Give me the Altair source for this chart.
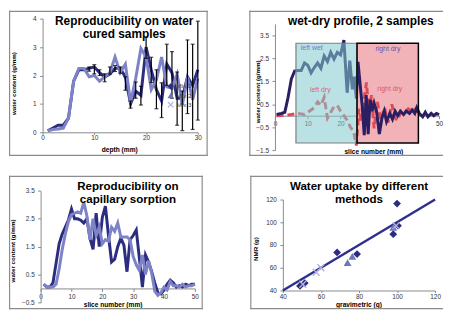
import altair as alt
import pandas as pd

FONT = "Liberation Sans"
FRAME = "#8c8c8c"
AX = "#8a8a8a"
DARK = "#2c2d80"
LIGHT = "#7d83c6"

# ---------------- data ----------------
# panel 1: reproducibility on water cured samples
depth = list(range(1, 31))
cured_a = [0.05, 0.15, 0.25, 0.25, 0.5, 1.8, 2.2, 2.2, 2.25, 2.3, 2.1, 1.95, 2.05, 2.25, 2.25,
           1.95, 1.0, 1.45, 1.3, 3.0, 2.2, 1.5, 1.1, 2.4, 2.1, 1.2, 1.2, 1.95, 1.65, 2.2]
cured_b = [0.05, 0.1, 0.12, 0.15, 0.5, 1.8, 2.25, 2.25, 1.95, 2.0, 1.8, 1.95, 2.1, 2.65, 2.1,
           2.4, 1.05, 1.9, 2.95, 2.65, 1.5, 1.85, 2.65, 1.6, 1.55, 2.05, 0.95, 1.95, 1.15, 1.9]
err_depth = list(range(9, 31))
err_lo = [2.15, 2.06, 2.0, 1.78, 2.05, 2.14, 2.08, 1.48, 0.85, 1.2, 0.96, 2.6, 1.75, 0.83,
          0.52, 1.65, 1.2, 0.25, 0.06, 0.66, 0.1, 0.43]
err_hi = [2.3, 2.38, 2.2, 2.06, 2.3, 2.35, 2.3, 1.95, 1.1, 1.77, 1.62, 3.35, 2.64, 2.2,
          1.74, 3.1, 2.84, 2.12, 1.45, 3.25, 3.1, 3.91]

# panel 2: wet-dry profile, 2 samples
wet_x = [0.5, 2, 3, 4, 5, 6, 7, 8, 9, 10, 11, 12, 13, 14, 15, 16, 17, 18, 19, 20, 21, 22,
         22.8, 23.6, 24.2, 24.8, 25.3, 26, 26.6, 27.2, 27.8, 28.4, 29, 29.6, 30.2, 31, 31.8,
         32.6, 33.3, 34, 35, 35.8, 36.6, 37.4, 38.2, 39.2, 40, 41, 41.8, 42.6, 43.2, 44, 45,
         45.8, 46.6, 47.6, 48.4, 49.2, 50]
wet_y = [0.05, 0.1, 0.15, 0.8, 1.6, 1.95, 1.97, 1.97, 2.3, 2.2, 1.87, 2.1, 2.3, 2.07, 2.6,
         2.36, 2.76, 2.47, 2.76, 2.65, 3.3, 1.0, 2.4, 1.15, 1.7, 0.75, 2.35, 1.3, 0.4, -0.85,
         0.9, -0.8, 0.7, 0.2, 0.55, 0.15, -0.8, -0.1, 0.2, -0.25, 0.1, -0.15, 0.2, 0.0, 0.2,
         0.05, 0.2, 0.1, 0.25, 0.1, 0.35, 0.1, -0.05, 0.15, -0.05, 0.1, 0.0, 0.1, 0.05]
dry_x = [0.5, 3, 5, 7, 8, 9, 10, 11, 12, 13, 14, 15, 16, 17, 18, 19, 20, 21, 22, 23, 24,
         24.8, 25.6, 26.4, 27.2, 27.9, 28.6, 29.4, 30.2, 31.2, 32.2, 33.4, 34.4, 35.6, 36.6,
         37.4, 38.4, 39.6, 40.6, 41.8, 42.8, 43.8]
dry_y = [0.0, 0.02, 0.05, 0.1, 0.08, 0.05, 0.15, 0.25, 0.35, 0.6, 0.45, 0.8, -0.1, 0.15,
         0.4, 0.45, 0.2, 0.0, -0.2, -0.5, -0.7, -1.3, 0.3, -0.3, 0.8, 1.45, 0.0, 0.9, -0.55,
         0.6, -0.2, 0.35, -0.3, 0.5, -0.1, -0.2, 0.2, 0.15, 0.3, 0.2, 0.3, 0.1]
zone_names = ["left", "right"]
zone_x0 = [6.4, 25.0]
zone_x1 = [25.0, 43.7]
zone_y0 = [-1.19, -1.19]
zone_y1 = [3.16, 3.16]
note_text = ["left wet", "right dry", "left dry", "right dry"]
note_x = [11.2, 34.4, 13.8, 35.0]
note_y = [2.93, 2.89, 1.12, 1.16]

# panel 3: reproducibility on capillary sorption
slices = list(range(1, 51))
cap_a = [0.15, 0.05, 0.05, 0.2, 0.9, 1.6, 1.95, 2.2, 2.45, 2.85, 2.5, 2.5, 2.45, 2.35, 2.5,
         1.8, 1.4, 2.7, 1.5, 2.55, 2.95, 1.9, 0.95, 1.05, 1.5, 1.8, 1.55, 0.6, 1.75, 1.9,
         2.1, 1.1, 0.05, 1.2, 0.95, 0.6, 0.2, -0.15, -0.2, -0.05, 0.15, 0.3, 0.2, 0.05, 0.1,
         0.05, 0.15, 0.1, 0.15, 0.15]
cap_b = [0.15, 0.05, 0.05, 0.05, 0.15, 0.7, 1.4, 1.95, 2.4, 2.65, 2.7, 2.75, 2.7, 3.1, 2.6,
         1.75, 2.5, 1.9, 2.2, 1.6, 1.75, 1.7, 2.2, 2.05, 2.35, 1.85, 1.85, 1.85, 1.75, 1.15,
         0.85, 0.65, 1.2, 0.5, 1.0, 0.55, -0.1, -0.25, -0.15, 0.05, -0.05, 0.25, 0.1, 0.1,
         0.05, 0.15, 0.05, 0.1, 0.1, 0.15]

# panel 4: water uptake by different methods
mix_names = ["Mix 1", "Mix 2", "Mix 3"]
mix1_grav = [49, 51.5, 68.5, 79, 98, 100, 100.5]
mix1_nmr = [44, 46.5, 73.5, 72, 89.5, 116.5, 97]
mix2_grav = [74, 76.5, 98]
mix2_nmr = [64.5, 70, 95.5]
mix3_grav = [50.5, 57.5, 60, 99.5]
mix3_nmr = [45.5, 56, 60, 97]
fit_grav = [40, 120]
fit_nmr = [40, 120]

ONE = alt.Data(values=[{"k": 1}])


# ---------------- helpers ----------------
def xaxis(vals, h, ypix, fmt="d", pad=2.0, ts=3):
    return alt.Axis(values=vals, title=None, offset=ypix - h, format=fmt, tickSize=ts,
                    labelPadding=pad, labelFlush=False, labelOverlap=False, grid=False)


def yaxis(vals, xpix, fmt="d"):
    return alt.Axis(values=vals, title=None, offset=-xpix, format=fmt, tickSize=3,
                    labelPadding=3.5, labelFlush=False, labelOverlap=False, grid=False)


def label(txt, x, y, size=12, weight="bold", angle=None, color="black"):
    kw = dict(text=txt, fontSize=size, fontWeight=weight, font=FONT, align="center",
              baseline="middle", color=color)
    if angle is not None:
        kw["angle"] = angle
    return alt.Chart(ONE).mark_text(**kw).encode(x=alt.value(x), y=alt.value(y))


def frame(w, h, right=True):
    c = alt.Chart(ONE)
    kw = dict(color=FRAME, strokeWidth=1.2)
    parts = [
        c.mark_rule(**kw).encode(x=alt.value(0), x2=alt.value(w), y=alt.value(0.6)),
        c.mark_rule(**kw).encode(x=alt.value(0), x2=alt.value(w), y=alt.value(h - 0.6)),
        c.mark_rule(**kw).encode(x=alt.value(0.6), y=alt.value(0), y2=alt.value(h)),
    ]
    if right:
        parts.append(c.mark_rule(**kw).encode(x=alt.value(w - 0.6), y=alt.value(0), y2=alt.value(h)))
    return parts


# ---------------- panel 1 ----------------
W1, H1 = 201, 147
sx1 = alt.Scale(domain=[0, 30], range=[34, 191], nice=False, zero=False)
sy1 = alt.Scale(domain=[0, 4], range=[123, 8], nice=False, zero=False)
ax1 = xaxis([0, 10, 20, 30], H1, 123, pad=0.5, ts=2)
ay1 = yaxis([0, 1, 2, 3, 4], 34)
d1 = pd.DataFrame({"depth": depth, "a": cured_a, "b": cured_b})
de = pd.DataFrame({"depth": err_depth, "lo": err_lo, "hi": err_hi})
X1 = alt.X("depth:Q", scale=sx1, axis=ax1)

p1 = alt.layer(
    alt.Chart(d1).mark_line(color=DARK, strokeWidth=3).encode(x=X1, y=alt.Y("a:Q", scale=sy1, axis=ay1)),
    alt.Chart(d1).mark_line(color=LIGHT, strokeWidth=3).encode(x=X1, y=alt.Y("b:Q", scale=sy1, axis=ay1)),
    alt.Chart(de).mark_rule(color="black", strokeWidth=1.2).encode(
        x=X1, y=alt.Y("lo:Q", scale=sy1, axis=ay1), y2="hi:Q"),
    alt.Chart(de).mark_tick(color="black", orient="horizontal", size=4, thickness=1.2).encode(
        x=X1, y=alt.Y("lo:Q", scale=sy1, axis=ay1)),
    alt.Chart(de).mark_tick(color="black", orient="horizontal", size=4, thickness=1.2).encode(
        x=X1, y=alt.Y("hi:Q", scale=sy1, axis=ay1)),
    label("Reproducibility on water", 116.5, 10.3),
    label("cured samples", 116.5, 23.7),
    label("water content (g/mm)", 5.5, 73.7, size=6.3, angle=270),
    label("depth (mm)", 112, 141, size=6.7),
    *frame(W1, H1),
).properties(width=W1, height=H1)

# ---------------- panel 2 ----------------
W2, H2 = 196, 147
sx2 = alt.Scale(domain=[0, 50], range=[26, 192], nice=False, zero=False)
sy2 = alt.Scale(domain=[-1.5, 4], range=[141, 13.4], nice=False, zero=False)
ax2 = xaxis([0, 10, 20, 30, 40, 50], H2, 106.2)
ay2 = yaxis([-1.5, -0.5, 0.5, 1.5, 2.5, 3.5], 26, ".1f")
zones = pd.DataFrame({"zone": zone_names, "x0": zone_x0, "x1": zone_x1, "y0": zone_y0, "y1": zone_y1})
notes = pd.DataFrame({"t": note_text, "x": note_x, "y": note_y, "i": [0, 1, 2, 3]})
dw = pd.DataFrame({"x": wet_x, "y": wet_y})
dd = pd.DataFrame({"x": dry_x, "y": dry_y})
X2z = alt.X("x0:Q", scale=sx2, axis=ax2)
Y2z = alt.Y("y0:Q", scale=sy2, axis=ay2)
X2 = alt.X("x:Q", scale=sx2, axis=ax2)
Y2 = alt.Y("y:Q", scale=sy2, axis=ay2)
note_colors = ["#6d80c4", "#6a50b4", "#d96a6e", "#e0585e"]

note_layers = [
    alt.Chart(notes).transform_filter(alt.datum.i == k).mark_text(
        font=FONT, fontSize=7, color=note_colors[k]).encode(x=X2, y=Y2, text="t:N")
    for k in range(4)
]

p2 = alt.layer(
    alt.Chart(zones).transform_filter(alt.datum.zone == "right").mark_rect(
        color="#f1b2b8").encode(x=X2z, x2="x1:Q", y=Y2z, y2="y1:Q"),
    alt.Chart(dd).mark_line(color="#e04a55", strokeWidth=3, strokeDash=[7, 4]).encode(x=X2, y=Y2),
    alt.Chart(dw).mark_line(color="#2a1f62", strokeWidth=3).encode(x=X2, y=Y2),
    alt.Chart(zones).transform_filter(alt.datum.zone == "left").mark_rect(
        color="#81c9ce", fillOpacity=0.55, stroke="#7f7f7f", strokeWidth=1.2).encode(
        x=X2z, x2="x1:Q", y=Y2z, y2="y1:Q"),
    alt.Chart(zones).transform_filter(alt.datum.zone == "right").mark_rect(
        fillOpacity=0, stroke="black", strokeWidth=1.5).encode(x=X2z, x2="x1:Q", y=Y2z, y2="y1:Q"),
    *note_layers,
    label("wet-dry profile, 2 samples", 112.8, 10.3),
    label("water content (g/mm)", 8.7, 82, size=6.3, angle=270),
    label("slice number (mm)", 126, 143, size=6.7),
    *frame(W2, H2, right=False),
).properties(width=W2, height=H2)

# ---------------- panel 3 ----------------
W3, H3 = 196, 135
sx3 = alt.Scale(domain=[0, 50], range=[32, 188], nice=False, zero=False)
sy3 = alt.Scale(domain=[-0.5, 3.5], range=[128, 15.3], nice=False, zero=False)
ax3 = xaxis([0, 10, 20, 30, 40, 50], H3, 113.9)
ay3 = yaxis([-0.5, 0.5, 1.5, 2.5, 3.5], 32, ".1f")
d3 = pd.DataFrame({"s": slices, "a": cap_a, "b": cap_b})
X3 = alt.X("s:Q", scale=sx3, axis=ax3)

p3 = alt.layer(
    alt.Chart(d3).mark_line(color=DARK, strokeWidth=3).encode(x=X3, y=alt.Y("a:Q", scale=sy3, axis=ay3)),
    alt.Chart(d3).mark_line(color=LIGHT, strokeWidth=3).encode(x=X3, y=alt.Y("b:Q", scale=sy3, axis=ay3)),
    label("Reproducibility on", 120.3, 10.5, size=11.7),
    label("capillary sorption", 120.3, 23.7, size=11.7),
    label("water content (g/mm)", 4.5, 76, size=6.3, angle=270),
    label("slice number (mm)", 105.3, 130.5, size=6.7),
    *frame(W3, H3),
).properties(width=W3, height=H3)

# ---------------- panel 4 ----------------
W4, H4 = 195, 135
sx4 = alt.Scale(domain=[40, 120], range=[33, 187], nice=False, zero=False)
sy4 = alt.Scale(domain=[40, 120], range=[116, 24], nice=False, zero=False)
ax4 = xaxis([40, 60, 80, 100, 120], H4, 116, pad=1, ts=2)
ay4 = yaxis([40, 60, 80, 100, 120], 33)
pts = pd.DataFrame({
    "grav": mix1_grav + mix2_grav + mix3_grav,
    "nmr": mix1_nmr + mix2_nmr + mix3_nmr,
    "mix": [mix_names[0]] * len(mix1_grav) + [mix_names[1]] * len(mix2_grav) + [mix_names[2]] * len(mix3_grav),
})
fit = pd.DataFrame({"grav": fit_grav, "nmr": fit_nmr})
X4 = alt.X("grav:Q", scale=sx4, axis=ax4)
Y4 = alt.Y("nmr:Q", scale=sy4, axis=ay4)
XSHAPE = "M-1,-0.75L-0.75,-1L0,-0.25L0.75,-1L1,-0.75L0.25,0L1,0.75L0.75,1L0,0.25L-0.75,1L-1,0.75L-0.25,0Z"
leg = alt.Legend(title=None, orient="none", legendX=160, legendY=73, padding=0,
                 symbolSize=40, labelFontSize=6.3, labelFont=FONT, labelColor="#444",
                 labelOffset=2.5, rowPadding=2.3, symbolStrokeWidth=0)

p4 = alt.layer(
    alt.Chart(fit).mark_line(color="#2f2f8c", strokeWidth=2.5).encode(x=X4, y=Y4),
    alt.Chart(pts).mark_point(filled=True, size=62, opacity=1).encode(
        x=X4, y=Y4,
        color=alt.Color("mix:N", scale=alt.Scale(domain=mix_names, range=["#2e2d7c", "#6d75bf", "#aeb0dc"]), legend=leg),
        shape=alt.Shape("mix:N", scale=alt.Scale(domain=mix_names, range=["diamond", "triangle-up", XSHAPE]), legend=leg),
    ),
    label("Water uptake by different", 110, 10.5, size=11.7),
    label("methods", 110, 23.7, size=11.7),
    label("NMR (g)", 5.5, 74, size=6.3, angle=270),
    label("gravimetric (g)", 110, 131, size=6.7),
    *frame(W4, H4, right=False),
).properties(width=W4, height=H4)

chart = alt.vconcat(
    alt.hconcat(p1, p2, spacing=40),
    alt.hconcat(p3, p4, spacing=46),
    spacing=18,
).properties(padding=0).configure_view(stroke=None).configure_axis(
    labelFont=FONT, labelFontSize=6.5, labelColor="#333", domainColor=AX, tickColor=AX,
    domainWidth=1, tickWidth=1,
)

chart.save("out.html", embed_options={"renderer": "svg", "actions": False})
